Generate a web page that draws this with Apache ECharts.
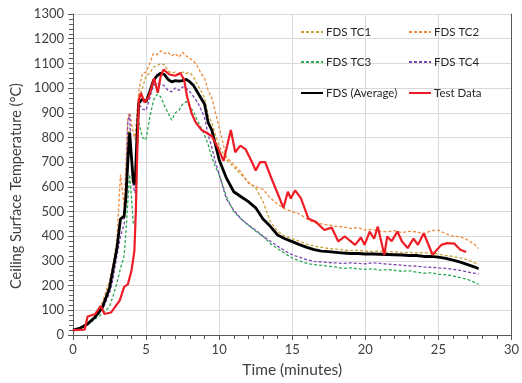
<!DOCTYPE html>
<html>
<head>
<meta charset="utf-8">
<script src="https://cdn.jsdelivr.net/npm/echarts@6/dist/echarts.min.js"></script>
<style>html,body{margin:0;padding:0;background:#fff}#c{width:522px;height:383px}</style>
</head>
<body>
<div id="c"></div>
<script>
// FDS time grid (minutes)
const fdsTime = [0,0.5,1,1.5,2,2.5,2.75,3,3.25,3.5,3.625,3.75,3.875,4,4.125,4.25,4.375,4.5,4.75,5,5.25,5.5,5.75,6,6.25,6.5,6.75,7,7.25,7.5,7.75,8,8.25,8.5,8.75,9,9.25,9.5,9.75,10,10.5,11,11.5,12,12.5,13,13.5,14,14.5,15,15.5,16,16.5,17,17.5,18,18.5,19,19.5,20,20.5,21,21.5,22,22.5,23,23.5,24,24.5,25,25.5,26,26.5,27,27.5,27.75];
const tc1 = [20,28,42,70,115,195,260,340,470,500,620,800,840,730,660,640,800,960,1000,1050,1060,1085,1090,1100,1095,1070,1060,1065,1055,1065,1060,1062,1045,1015,990,960,890,860,810,765,710,680,650,620,595,540,460,420,400,390,380,368,360,355,350,348,345,342,343,340,338,340,336,338,333,335,332,334,330,328,322,318,312,305,292,285];
const tc2 = [20,28,45,75,130,220,290,380,650,520,700,880,900,860,820,790,900,990,1060,1065,1100,1140,1135,1150,1140,1145,1130,1140,1125,1145,1130,1120,1110,1090,1060,1040,990,960,900,840,720,690,660,615,600,590,555,530,510,500,490,470,455,450,445,440,438,432,435,425,428,420,418,422,415,420,418,410,422,425,410,400,398,385,365,350];
const tc3 = [20,25,40,65,85,115,160,210,270,320,420,540,650,560,450,440,700,860,800,790,880,950,975,965,930,900,870,900,910,935,945,925,905,870,840,810,770,720,680,650,560,500,470,445,420,400,370,350,330,312,300,290,285,282,278,275,270,272,268,266,268,263,265,262,258,260,255,250,252,246,244,240,232,225,212,205];
const tc4 = [20,28,42,68,100,170,230,320,400,450,620,860,895,720,600,575,760,935,915,910,960,1010,1020,1015,1010,990,985,1000,990,1005,1000,985,965,945,915,880,810,760,700,650,550,505,470,445,425,400,380,360,340,325,315,305,298,296,293,292,290,292,290,288,292,290,287,285,283,280,279,276,274,272,270,266,262,255,250,247];
const avg = [20,28,45,72,110,190,270,350,470,480,560,700,820,720,620,610,800,940,955,945,985,1030,1050,1060,1055,1035,1025,1030,1028,1030,1035,1025,1010,985,960,935,860,830,770,710,635,580,560,540,515,470,440,405,390,378,366,355,346,340,338,335,332,330,330,328,328,327,326,325,324,322,322,318,318,315,310,303,295,285,275,268];
// Test data
const testTime = [0,0.8,1.0,1.5,1.9,2.15,2.6,3.2,3.5,3.75,4.0,4.2,4.3,4.4,4.5,4.65,4.9,5.2,5.55,5.8,6.0,6.2,6.6,7.0,7.35,7.6,7.8,8.1,8.4,8.8,9.1,9.5,9.9,10.3,10.55,10.8,11.1,11.45,11.8,12.25,12.5,12.8,13.15,13.5,14.05,14.4,14.7,14.9,15.2,15.6,16.1,16.6,17.2,17.7,18.15,18.6,19.3,19.7,19.95,20.3,20.6,20.85,21.3,21.5,21.8,22.2,22.5,22.9,23.3,23.6,24.0,24.6,25.2,25.6,26.1,26.5,26.9];
const testData = [20,22,75,84,118,85,91,140,195,205,260,340,500,750,950,981,941,967,1040,981,1048,1075,1055,1050,1061,1034,967,900,860,830,820,805,760,705,767,830,740,767,753,700,666,700,700,646,566,515,580,553,586,553,472,459,425,435,379,399,365,395,365,419,390,439,325,399,380,419,380,352,390,365,412,325,365,372,370,345,336];

const xTicks = [0,5,10,15,20,25,30];
const yTicks = [0,100,200,300,400,500,600,700,800,900,1000,1100,1200,1300];
const legendCol1 = ['FDS TC1','FDS TC3','FDS (Average)'];
const legendCol2 = ['FDS TC2','FDS TC4','Test Data'];

function pairs(t, v){ return t.map((x,i)=>[x, v[i]]); }

const FONT = 'Lato';
const chart = echarts.init(document.getElementById('c'), null, {renderer:'canvas'});
const dashed = (name, data, color) => ({
  name, type:'line', data: pairs(fdsTime, data), showSymbol:false, symbol:'none',
  lineStyle:{color, width:1.3, type:[3,2]}, itemStyle:{color}, z:2
});
const rowTops = [26, 56, 87];
const legends = [];
[[legendCol1, 300], [legendCol2, 408]].forEach(([names, left]) => {
  names.forEach((n, i) => legends.push({
    left, top: rowTops[i], padding:0, itemWidth:22, itemHeight:14, data:[n],
    itemStyle:{opacity:0},
    textStyle:{fontFamily:FONT, fontSize:11.5, color:'#262626', padding:[0,0,0,-2]}
  }));
});
chart.setOption({
  animation:false,
  textStyle:{fontFamily:FONT},
  grid:{left:73, right:8, top:14, bottom:46, containLabel:false},
  legend: legends,
  graphic:[{
    type:'text', x:16, y:186, rotation:Math.PI/2,
    style:{text:'Ceiling Surface Temperature (°C)', fontFamily:FONT, fontSize:14.5, fill:'#404040',
      textAlign:'center', textVerticalAlign:'middle'}
  }],
  xAxis:{
    type:'value', min:0, max:30, interval:5,
    name:'Time (minutes)', nameLocation:'middle', nameGap:27,
    nameTextStyle:{fontFamily:FONT, fontSize:15.5, color:'#404040'},
    axisLine:{show:true, onZero:false, lineStyle:{color:'#595959', width:1}},
    axisTick:{show:true, length:5, lineStyle:{color:'#595959'}},
    minorTick:{show:true, splitNumber:5, length:4, lineStyle:{color:'#595959'}},
    axisLabel:{fontFamily:FONT, fontSize:13, color:'#404040', margin:8,
      formatter:v=> xTicks.includes(v) ? String(v) : ''},
    splitLine:{show:true, lineStyle:{color:'#d9d9d9', width:1}}
  },
  yAxis:[{
    type:'value', min:0, max:1300, interval:100,
    axisLine:{show:true, lineStyle:{color:'#595959', width:1}},
    axisTick:{show:true, length:5, lineStyle:{color:'#595959'}},
    minorTick:{show:true, splitNumber:5, length:4, lineStyle:{color:'#595959'}},
    axisLabel:{fontFamily:FONT, fontSize:13, color:'#404040', margin:9,
      formatter:v=> yTicks.includes(v) ? String(v) : ''},
    splitLine:{show:true, lineStyle:{color:'#d9d9d9', width:1}}
  },{
    type:'value', min:0, max:1300, position:'right',
    axisLine:{show:true, lineStyle:{color:'#595959', width:1}},
    axisTick:{show:false}, axisLabel:{show:false}, splitLine:{show:false}
  }],
  series:[
    dashed('FDS TC1', tc1, '#C9A23A'),
    dashed('FDS TC2', tc2, '#F08A3C'),
    dashed('FDS TC3', tc3, '#2EAA55'),
    dashed('FDS TC4', tc4, '#7A45B0'),
    {name:'FDS (Average)', type:'line', data:pairs(fdsTime, avg), showSymbol:false, symbol:'none',
     lineStyle:{color:'#000000', width:2.8}, itemStyle:{color:'#000'}, z:3},
    {name:'Test Data', type:'line', data:pairs(testTime, testData), showSymbol:false, symbol:'none',
     lineStyle:{color:'#EE1C25', width:2.2}, itemStyle:{color:'#EE1C25'}, z:4}
  ]
});
</script>
</body>
</html>
